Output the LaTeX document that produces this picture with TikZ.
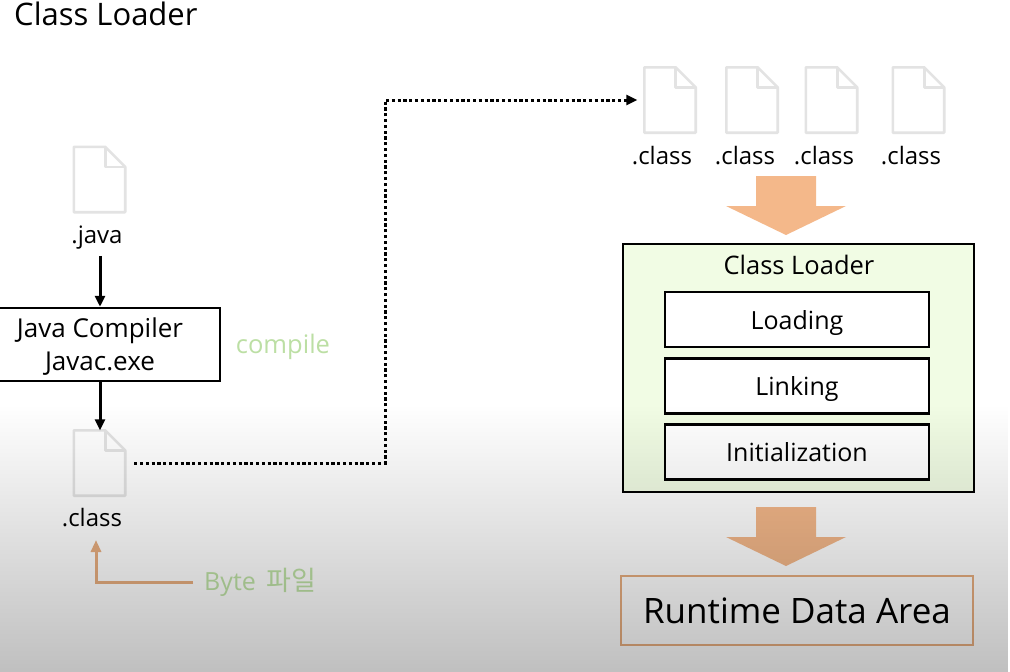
\documentclass[tikz,border=0pt]{standalone}
\usepackage{fontspec}
\setmainfont{Open Sans}
\newfontfamily\krfont{Noto Sans CJK KR}
\usetikzlibrary{
    arrows.meta,
    positioning,
    calc,
    fadings
}
\definecolor{file gray}{HTML}{E3E3E3}
\definecolor{big arrow color}{HTML}{F4B88A}
\definecolor{tan line}{HTML}{E8AE80}
\definecolor{compile green}{HTML}{BCDFA4}
\definecolor{byte green}{HTML}{BFE3A6}
\definecolor{loader fill}{HTML}{F1FCE4}
\tikzfading[name=bottom shade, top color=transparent!100, bottom color=transparent!0]
\tikzset{
    % Arrows
    arrow tip/.tip={Stealth[length=11pt,width=10pt,inset=0pt]},
    arr/.style={-{arrow tip},line width=3pt},
    dotted arr/.style={-{arrow tip},line width=3pt,dash pattern=on 3.2pt off 2.6pt},
    tan arr/.style={-{Stealth[length=12pt,width=10pt,inset=0pt]},line width=3pt,color=tan line},
    %
    % Nodes
    file box/.style={minimum width=51pt,minimum height=65pt,inner sep=0pt},
    file line/.style={line width=2.6pt,color=file gray,line join=round},
    label/.style={inner sep=0pt,font=\fontsize{24}{28}\selectfont},
    step box/.style={draw,line width=2.5pt,fill=white,minimum width=264pt,minimum height=55pt,inner sep=0pt,text depth=0pt,font=\fontsize{25}{30}\selectfont}
}
% file icon with a folded corner
\newcommand{\filenode}[2]{
    \node[file box] (#1) at (#2) {};
    \draw[file line] (#1.north west) -- ([xshift=-20pt]#1.north east) -- ([yshift=-20pt]#1.north east) -- (#1.south east) -- (#1.south west) -- cycle;
    \draw[file line] ([xshift=-20pt]#1.north east) |- ([yshift=-20pt]#1.north east);
}
% big down arrow
\newcommand{\bigarrow}[1]{
    \fill[big arrow color] (756,#1) -- (816,#1) -- (816,#1+30) -- (846,#1+30) -- (786,#1+59) -- (726,#1+30) -- (756,#1+30) -- cycle;
}

\begin{document}
\begin{tikzpicture}[x=1pt,y=-1pt]
    \useasboundingbox (0,0) rectangle (1010,672);
    \fill[white] (0,0) rectangle (1010,672);

    \node[label,font=\fontsize{31}{37}\selectfont,anchor=west] (title) at (14,14) {Class Loader};

    % left column
    \filenode{javafile}{99.5,179.5}
    \node[label] (javalbl) at (97,238) {.java};
    \node[draw,line width=2.5pt,fill=white,minimum width=240pt,minimum height=73pt,inner sep=0pt] (compiler) at (100,344.5) {};
    \node[label,align=center,font=\fontsize{26}{33}\selectfont] (compilerlbl) at (100,347) {Java Compiler\\Javac.exe};
    \node[label,font=\fontsize{25.5}{30}\selectfont,text=compile green] (compile) at (283,347) {compile};
    \filenode{classfile}{99.5,463}
    \node[label] (classlbl) at (92,518) {.class};
    \node[label,font=\fontsize{25}{30}\selectfont,text=byte green,anchor=west] (byte) at (204,582) {Byte\hspace{4pt} {\fontsize{27}{30}\selectfont\krfont 파일}};
    \coordinate (bytetip) at (96,540);
    \coordinate (bend) at (385,280);

    \draw[arr] (compiler.north |- javalbl.south) ++(0,6) -- (compiler.north);
    \draw[arr] (compiler.south) -- (compiler.south |- classfile.north);
    \draw[tan arr] ([xshift=-11pt]byte.west) -| (bytetip);

    % class files on the right
    \foreach \n/\fx/\lx in {1/670/662,2/752/745,3/831.5/824,4/918.5/911}{
        \filenode{class\n}{\fx,100}
        \node[label] (classlbl\n) at (\lx,156) {.class};
    }
    \draw[dotted arr,shorten <=9pt,shorten >=7pt] (classfile.east) -| (bend) |- (class1.west);

    \bigarrow{176}

    % class loader box
    \node[draw,line width=2.5pt,fill=loader fill,minimum width=351pt,minimum height=248pt,inner sep=0pt] (loader) at (798.5,368) {};
    \node[label,font=\fontsize{25.5}{30}\selectfont] (loaderlbl) at (799,265) {Class Loader};
    \node[step box] (loading) at (797,319.5) {Loading};
    \node[step box] (linking) at (797,386) {Linking};
    \node[step box] (init) at (797,452) {Initialization};

    \bigarrow{507}

    \node[draw=tan line,line width=2.5pt,minimum width=352pt,minimum height=69pt,inner sep=0pt,font=\fontsize{35}{42}\selectfont] (runtime) at (797,610.5) {Runtime Data Area};

    % gray fade over the lower part
    \fill[black,opacity=.25,path fading=bottom shade] (-1,405) rectangle (1011,673);
\end{tikzpicture}
\end{document}
